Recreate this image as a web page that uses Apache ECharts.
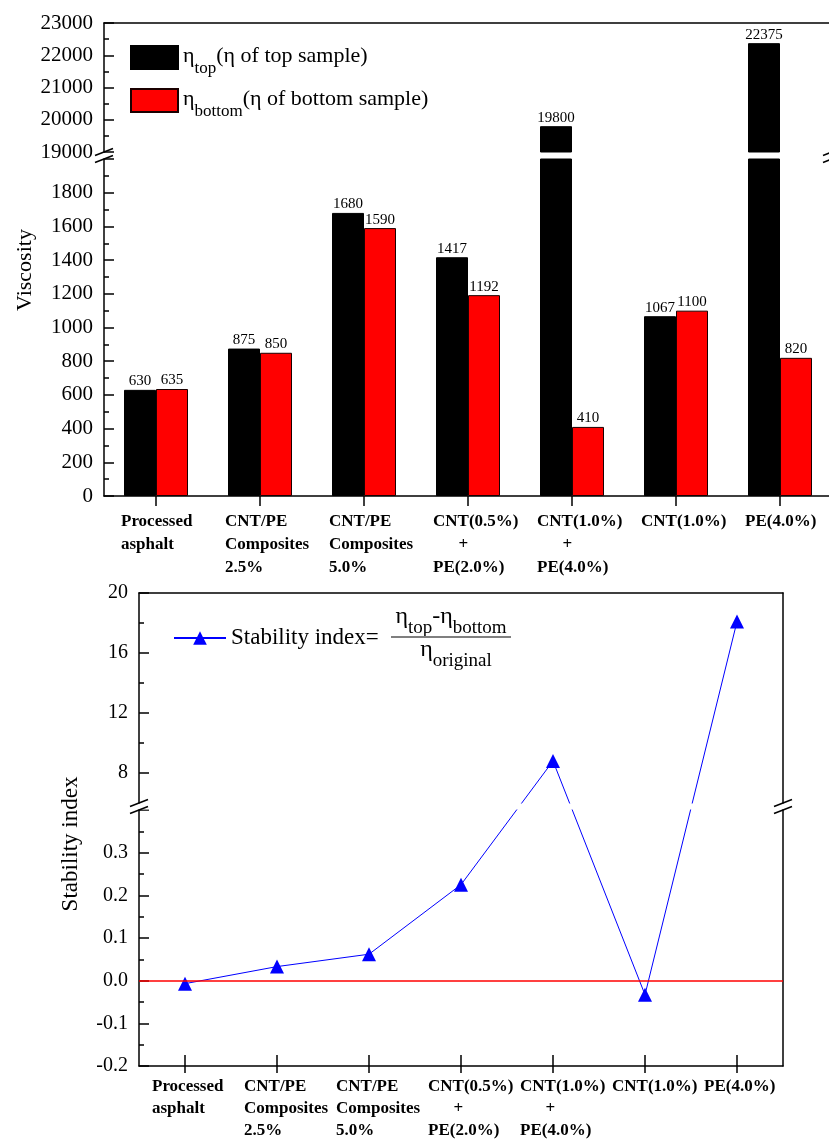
<!DOCTYPE html>
<html>
<head>
<meta charset="utf-8">
<script src="https://cdn.jsdelivr.net/npm/echarts@6/dist/echarts.min.js"></script>
<style>html,body{margin:0;padding:0;background:#fff}#c{width:829px;height:1140px}</style>
</head>
<body>
<div id="c"></div>
<script>
// ---------------- data ----------------
const categories = [
  'Processed\nasphalt',
  'CNT/PE\nComposites\n2.5%',
  'CNT/PE\nComposites\n5.0%',
  'CNT(0.5%)\n      +\nPE(2.0%)',
  'CNT(1.0%)\n      +\nPE(4.0%)',
  'CNT(1.0%)',
  'PE(4.0%)'
];
const etaTop = [630, 875, 1680, 1417, 19800, 1067, 22375];
const etaBottom = [635, 850, 1590, 1192, 410, 1100, 820];
const stabilityIndex = [-0.007, 0.033, 0.062, 0.225, 8.8, -0.033, 18.1];

const viscBreak = [2000, 19000];      // lower segment max, upper segment min
const stabBreak = [0.4, 6];
const stabUpperTicks = [8, 12, 16, 20];
const stabUpperMinorTicks = [10, 14, 18];

const legendMain = ['η', 'η'];
const legendSub = ['top', 'bottom'];
const legendRest = ['(η of top sample)', '(η of bottom sample)'];
const barNames = legendMain.map((m, i) => m + legendSub[i] + legendRest[i]);
const stabName = 'Stability index=';

// ---------------- style ----------------
const SERIF = '"Liberation Serif", "Times New Roman", serif';
const BLACK = '#000';
const axisLS = {color: BLACK, width: 1.5};
const BLUE = '#0000ff';

const chart = echarts.init(document.getElementById('c'));

const grids = [
  {left: 104, width: 728, top: 23, height: 129},
  {left: 104, width: 728, top: 159, height: 337},
  {left: 139, width: 644, top: 593, height: 210},
  {left: 139, width: 644, top: 810, height: 256}
].map(g => Object.assign({outerBoundsMode: 'none', containLabel: false, show: false}, g));

function xLabel(shift, margin, lh) {
  return {show: true, interval: 0, align: 'left', padding: [0, 0, 0, shift], margin: margin,
    fontFamily: SERIF, fontWeight: 'bold', fontSize: 17, lineHeight: lh, color: BLACK};
}
function frameX(gi, pos) {
  return {gridIndex: gi, type: 'category', data: categories, position: pos,
    axisLine: {show: true, onZero: false, lineStyle: axisLS}, axisTick: {show: false},
    axisLabel: {show: false}, splitLine: {show: false}};
}
const xAxes = [
  frameX(0, 'top'),
  {gridIndex: 1, type: 'category', data: categories, position: 'bottom',
    axisLine: {show: true, onZero: false, lineStyle: axisLS},
    axisTick: {show: true, alignWithLabel: true, length: 10, lineStyle: axisLS},
    axisLabel: xLabel(-35, 14, 23), splitLine: {show: false}},
  frameX(2, 'top'),
  {gridIndex: 3, type: 'category', data: categories, position: 'bottom',
    axisLine: {show: true, onZero: false, lineStyle: axisLS},
    axisTick: {show: true, alignWithLabel: true, length: 7, lineStyle: axisLS},
    axisLabel: xLabel(-33, 10, 22), splitLine: {show: false}},
  {gridIndex: 3, type: 'category', data: categories, position: 'bottom',
    axisLine: {show: false, onZero: false},
    axisTick: {show: true, inside: true, alignWithLabel: true, length: 11, lineStyle: axisLS},
    axisLabel: {show: false}, splitLine: {show: false}}
];

const plain = v => String(v);
function yLab(size, extra) {
  return Object.assign({show: true, color: BLACK, fontFamily: SERIF, fontSize: size, margin: 11, formatter: plain}, extra || {});
}
const yAxes = [
  {gridIndex: 0, type: 'value', position: 'left', min: viscBreak[1], max: 23000, interval: 1000,
    axisLine: {show: true, onZero: false, lineStyle: axisLS},
    axisTick: {show: true, inside: true, length: 10, lineStyle: axisLS},
    minorTick: {show: true, splitNumber: 2, length: 5, lineStyle: axisLS},
    splitLine: {show: false}, minorSplitLine: {show: false}, axisLabel: yLab(21)},
  {gridIndex: 1, type: 'value', position: 'left', min: 0, max: viscBreak[0], interval: 200,
    axisLine: {show: true, onZero: false, lineStyle: axisLS},
    axisTick: {show: true, inside: true, length: 10, lineStyle: axisLS},
    minorTick: {show: true, splitNumber: 2, length: 5, lineStyle: axisLS},
    splitLine: {show: false}, axisLabel: yLab(21, {showMaxLabel: false})},
  {gridIndex: 2, type: 'value', position: 'left', min: stabBreak[1], max: 20, interval: 2,
    axisLine: {show: true, onZero: false, lineStyle: axisLS},
    axisTick: {show: true, inside: true, length: 10, lineStyle: axisLS, customValues: stabUpperTicks},
    splitLine: {show: false}, axisLabel: yLab(20, {customValues: stabUpperTicks})},
  {gridIndex: 2, type: 'value', position: 'left', min: stabBreak[1], max: 20, interval: 2,
    axisLine: {show: false, onZero: false},
    axisTick: {show: true, inside: true, length: 5, lineStyle: axisLS, customValues: stabUpperMinorTicks},
    splitLine: {show: false}, axisLabel: {show: false}},
  {gridIndex: 3, type: 'value', position: 'left', min: -0.2, max: stabBreak[0], interval: 0.1,
    axisLine: {show: true, onZero: false, lineStyle: axisLS},
    axisTick: {show: true, inside: true, length: 10, lineStyle: axisLS},
    minorTick: {show: true, splitNumber: 2, length: 5, lineStyle: axisLS},
    splitLine: {show: false},
    axisLabel: yLab(20, {showMaxLabel: false, formatter: v => v.toFixed(1)})},
  {gridIndex: 2, type: 'value', position: 'right', min: stabBreak[1], max: 20,
    axisLine: {show: true, onZero: false, lineStyle: axisLS}, axisTick: {show: false},
    axisLabel: {show: false}, splitLine: {show: false}},
  {gridIndex: 3, type: 'value', position: 'right', min: -0.2, max: stabBreak[0],
    axisLine: {show: true, onZero: false, lineStyle: axisLS}, axisTick: {show: false},
    axisLabel: {show: false}, splitLine: {show: false}}
];

const barLabel = (test) => ({show: true, position: 'top', distance: 1, color: BLACK,
  fontFamily: SERIF, fontSize: 15, formatter: p => test(p.value) ? String(p.value) : ''});
const blackStyle = {color: '#000', borderColor: '#000', borderWidth: 1};
const redStyle = {color: '#ff0000', borderColor: '#1a0000', borderWidth: 1};
const inLower = v => v <= viscBreak[0];
const inUpper = v => v >= viscBreak[1];

const lowerStab = stabilityIndex.map(v => v <= stabBreak[0] ? v : '-');
const upperStab = stabilityIndex.map(v => v >= stabBreak[1] ? v : '-');

const series = [
  {type: 'bar', name: barNames[0], xAxisIndex: 1, yAxisIndex: 1, data: etaTop, barWidth: 32, barGap: '0%',
    itemStyle: blackStyle, label: barLabel(inLower), clip: true},
  {type: 'bar', name: barNames[1], xAxisIndex: 1, yAxisIndex: 1, data: etaBottom, barWidth: 32, barGap: '0%',
    itemStyle: redStyle, label: barLabel(inLower), clip: true},
  {type: 'bar', name: barNames[0], xAxisIndex: 0, yAxisIndex: 0, data: etaTop, barWidth: 32, barGap: '0%',
    itemStyle: blackStyle, label: barLabel(inUpper), clip: true},
  {type: 'bar', name: barNames[1], xAxisIndex: 0, yAxisIndex: 0, data: etaBottom, barWidth: 32, barGap: '0%',
    itemStyle: redStyle, label: barLabel(inUpper), clip: true},
  {type: 'line', name: stabName, xAxisIndex: 3, yAxisIndex: 4, data: lowerStab, connectNulls: false,
    symbol: 'triangle', symbolSize: 14, showSymbol: true, itemStyle: {color: BLUE},
    lineStyle: {color: BLUE, width: 1}, z: 3,
    markLine: {silent: true, symbol: 'none', label: {show: false},
      lineStyle: {color: '#ff0000', width: 1.5, type: 'solid'}, data: [{yAxis: 0}]}},
  {type: 'line', name: stabName, xAxisIndex: 2, yAxisIndex: 2, data: upperStab, connectNulls: false,
    symbol: 'triangle', symbolSize: 14, showSymbol: true, itemStyle: {color: BLUE},
    lineStyle: {color: BLUE, width: 1}, z: 3}
];

const subRich = (main, sub, lhMain, padTop) => ({
  a: {fontFamily: SERIF, fontSize: main, lineHeight: lhMain, verticalAlign: 'top', color: BLACK},
  s: {fontFamily: SERIF, fontSize: sub, lineHeight: sub, padding: [padTop, 0, 0, 0], verticalAlign: 'top', color: BLACK}
});

const option = {
  animation: false,
  backgroundColor: '#fff',
  grid: grids,
  xAxis: xAxes,
  yAxis: yAxes,
  legend: [
    {data: barNames, orient: 'vertical', left: 130, top: 45, padding: 0, itemWidth: 47, itemHeight: 23,
      itemGap: 11, icon: 'rect', selectedMode: false,
      formatter: n => { const i = barNames.indexOf(n); return '{a|' + legendMain[i] + '}{s|' + legendSub[i] + '}{a|' + legendRest[i] + '}'; },
      textStyle: {fontFamily: SERIF, fontSize: 22, color: BLACK, rich: subRich(22, 17, 25, 15)}},
    {data: [stabName], left: 173, top: 626, padding: 0, itemWidth: 52, itemHeight: 17, selectedMode: false,
      textStyle: {fontFamily: SERIF, fontSize: 23, lineHeight: 24, color: BLACK}}
  ],
  series: series
};
chart.setOption(option);

// ---------- decorations computed from the library's layout ----------
const g = [];
const rot = Math.PI / 2;
g.push({type: 'text', x: 25, y: 270, rotation: rot, z: 20,
  style: {text: 'Viscosity', fontFamily: SERIF, fontSize: 22, fill: BLACK, align: 'center', verticalAlign: 'middle'}});
g.push({type: 'text', x: 71, y: 844, rotation: rot, z: 20,
  style: {text: 'Stability index', fontFamily: SERIF, fontSize: 23, fill: BLACK, align: 'center', verticalAlign: 'middle'}});

// fraction of the stability index legend
const fracRich = subRich(24, 19, 26, 14);
g.push({type: 'text', x: 451, y: 618, z: 20,
  style: {text: '{a|η}{s|top}{a|-η}{s|bottom}', rich: fracRich, align: 'center', verticalAlign: 'middle'}});
g.push({type: 'line', z: 20, shape: {x1: 391, y1: 637, x2: 511, y2: 637}, style: {stroke: '#7f7f7f', lineWidth: 2}});
g.push({type: 'text', x: 456, y: 651, z: 20,
  style: {text: '{a|η}{s|original}', rich: fracRich, align: 'center', verticalAlign: 'middle'}});

// cross-break connector lines for the stability index
const pix = stabilityIndex.map((v, i) => v >= stabBreak[1]
  ? chart.convertToPixel({seriesIndex: 5}, [i, v])
  : chart.convertToPixel({seriesIndex: 4}, [i, v]));
for (let i = 0; i < stabilityIndex.length - 1; i++) {
  const u1 = stabilityIndex[i] >= stabBreak[1], u2 = stabilityIndex[i + 1] >= stabBreak[1];
  if (u1 !== u2) {
    g.push({type: 'line', z: 1, silent: true,
      shape: {x1: pix[i][0], y1: pix[i][1], x2: pix[i + 1][0], y2: pix[i + 1][1]},
      style: {stroke: BLUE, lineWidth: 1}});
  }
}
// gap between the two stability segments
const gU = grids[2], gL = grids[3];
g.push({type: 'rect', z: 5, silent: true,
  shape: {x: gU.left + 1, y: gU.top + gU.height + 0.5, width: gU.width - 2, height: gL.top - gU.top - gU.height - 1},
  style: {fill: '#fff'}});

// break marks
function brk(x, y) {
  g.push({type: 'line', z: 30, silent: true, shape: {x1: x - 9, y1: y + 3.5, x2: x + 9, y2: y - 3.5},
    style: {stroke: BLACK, lineWidth: 1.5}});
}
[[grids[0], grids[1]], [grids[2], grids[3]]].forEach(([up, lo]) => {
  const yb = up.top + up.height, yt = lo.top;
  [up.left, up.left + up.width].forEach(x => { brk(x, yb); brk(x, yt); });
});

chart.setOption({graphic: {elements: g}});
</script>
</body>
</html>
